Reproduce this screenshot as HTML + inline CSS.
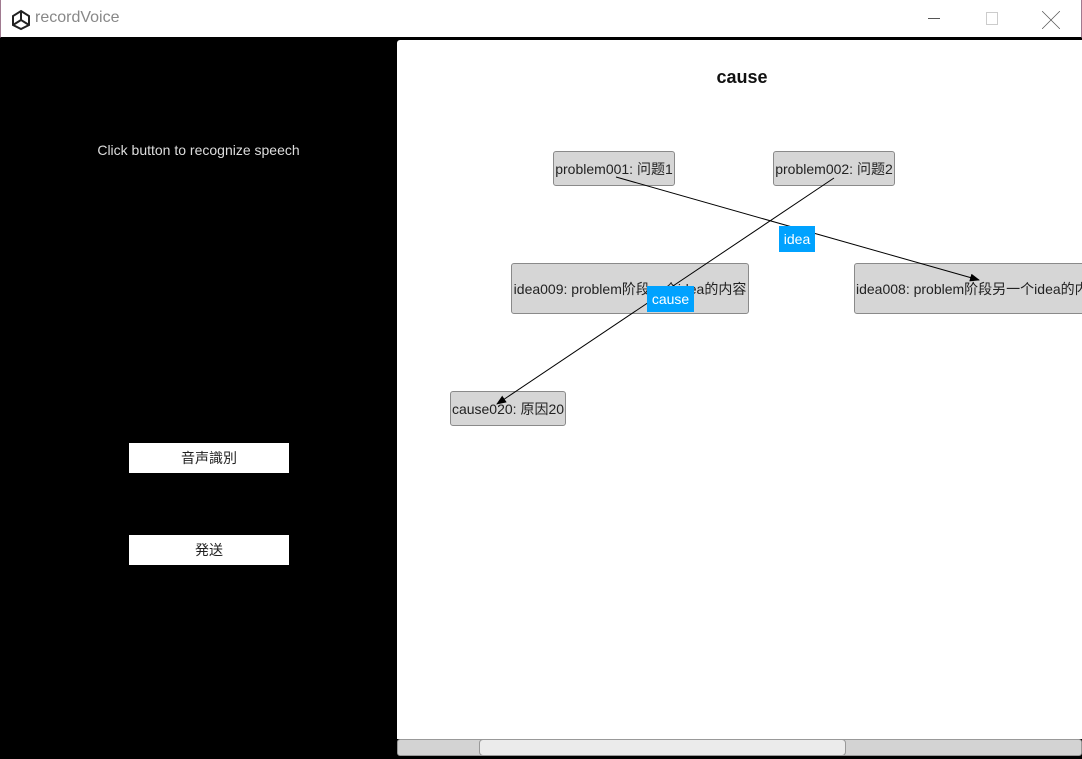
<!DOCTYPE html>
<html><head><meta charset="utf-8"><style>
body{margin:0;width:1082px;height:759px;overflow:hidden;background:#000;position:relative;font-family:"Liberation Sans","Noto Sans CJK SC",sans-serif}
.a{position:absolute}
.node{position:absolute;background:#d6d6d6;border:1px solid #8a8a8a;border-radius:3px;box-sizing:border-box;font-size:14px;color:#222;display:flex;align-items:center;justify-content:center;white-space:nowrap;overflow:hidden}
.lbl{position:absolute;background:#00a2ff;color:#fff;font-size:14px;display:flex;align-items:center;justify-content:center}
.btn{position:absolute;background:#fff;color:#222;font-size:14px;display:flex;align-items:center;justify-content:center}
</style></head><body>
<div class="a" style="left:0;top:0;width:1082px;height:38px;background:#fff;border-bottom:1px solid #000;border-left:1px solid #a07a90;border-right:1px solid #a07a90;box-sizing:border-box"></div>
<svg class="a" style="left:10px;top:9px" width="22" height="22" viewBox="0 0 22 22"><path d="M11 2 L19 7 L19 16 L11 20 L3 16 L3 7 Z M11 2 L11 11 L19 16 M11 11 L3 16" fill="none" stroke="#222" stroke-width="2"/></svg>
<div class="a" style="left:35px;top:9px;font-size:16px;color:#888">recordVoice</div>
<div class="a" style="left:928px;top:18px;width:12px;height:1px;background:#555"></div>
<div class="a" style="left:986px;top:12px;width:10px;height:11px;border:1px solid #ccc"></div>
<div class="a" style="left:1042px;top:7px;font-size:18px;color:#555">╳</div>
<div class="a" style="left:0;top:142px;width:397px;text-align:center;color:#ddd;font-size:14px">Click button to recognize speech</div>
<div class="btn" style="left:129px;top:443px;width:160px;height:30px">音声識別</div>
<div class="btn" style="left:129px;top:535px;width:160px;height:30px">発送</div>
<div class="a" style="left:397px;top:40px;width:685px;height:699px;background:#fff;border-radius:3px 0 0 0"></div>
<div class="a" style="left:397px;top:67px;width:690px;text-align:center;font-size:18px;font-weight:bold;color:#111">cause</div>
<div class="node" style="left:553px;top:151px;width:122px;height:35px">problem001: 问题1</div>
<div class="node" style="left:773px;top:151px;width:122px;height:35px">problem002: 问题2</div>
<div class="node" style="left:511px;top:263px;width:238px;height:51px">idea009: problem阶段一个idea的内容</div>
<div class="node" style="left:854px;top:263px;width:240px;height:51px;justify-content:flex-start;padding-left:1px">idea008: problem阶段另一个idea的内容</div>
<div class="node" style="left:450px;top:391px;width:116px;height:35px">cause020: 原因20</div>
<svg class="a" style="left:0;top:0" width="1082" height="759">
<defs><marker id="m" markerWidth="10" markerHeight="8" refX="9" refY="4" orient="auto" markerUnits="userSpaceOnUse"><path d="M0 0 L10 4 L0 8 Z" fill="#000"/></marker></defs>
<line x1="616" y1="177" x2="979" y2="280" stroke="#000" stroke-width="1" marker-end="url(#m)"/>
<line x1="834" y1="178" x2="497" y2="404" stroke="#000" stroke-width="1" marker-end="url(#m)"/>
</svg>
<div class="lbl" style="left:779px;top:226px;width:36px;height:26px">idea</div>
<div class="lbl" style="left:647px;top:286px;width:47px;height:26px">cause</div>
<div class="a" style="left:397px;top:739px;width:685px;height:17px;background:#d3d3d3;border:1px solid #999;box-sizing:border-box;border-radius:3px"></div>
<div class="a" style="left:479px;top:739px;width:367px;height:17px;background:#ebebeb;border:1px solid #999;box-sizing:border-box;border-radius:4px"></div>
</body></html>
